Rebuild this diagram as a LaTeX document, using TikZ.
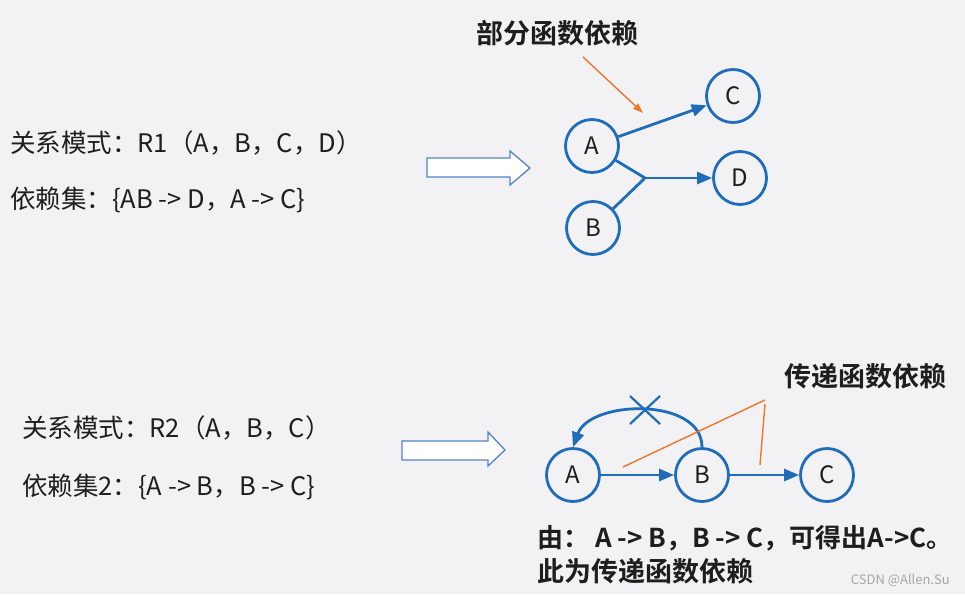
\documentclass[tikz,border=0pt]{standalone}
\usepackage{fontspec}
\setmainfont{Noto Sans CJK SC}
\newfontfamily\cjkbold{Noto Sans CJK SC Bold}
\usetikzlibrary{arrows.meta}
\definecolor{bg}{RGB}{242,242,244}
\definecolor{nblue}{RGB}{30,108,186}
\definecolor{norange}{RGB}{237,118,40}
\definecolor{hblue}{RGB}{84,130,200}
\definecolor{txt}{RGB}{30,30,30}
\tikzset{
  ent/.style={circle,draw=nblue,line width=2.8pt,minimum size=53pt,inner sep=0pt,font=\fontsize{24}{26}\selectfont,text=txt},
  dep/.style={draw=nblue,line width=2.8pt,-{Triangle[length=15pt,width=12pt]}},
  plain/.style={draw=nblue,line width=2.8pt},
  lab/.style={font=\fontsize{25.5}{28}\selectfont,text=txt,anchor=west,inner sep=0pt},
  blab/.style={font=\cjkbold\fontsize{27}{30}\selectfont,text=txt,inner sep=0pt},
  hollow/.style={draw=hblue,line width=1.3pt,fill=white},
  orl/.style={draw=norange,line width=1.4pt}
}
\begin{document}
\begin{tikzpicture}[x=1pt,y=-1pt]
\fill[bg] (0,0) rectangle (965,594);
\useasboundingbox (0,0) rectangle (965,594);
% ---------- top part ----------
\node[lab] (t1) at (10,143) {关系模式：R1（A，B，C，D）};
\node[lab] (t2) at (10,200) {依赖集：\{AB -> D，A -> C\}};
\draw[hollow] (427,158) -- (510,158) -- (510,151) -- (530,168) -- (510,185) -- (510,177) -- (427,177) -- cycle;
\node[blab] (p1) at (557,33) {部分函数依赖};
\node[ent] (A1) at (592,146) {A};
\node[ent] (B1) at (593,228) {B};
\node[ent] (C1) at (733,96) {C};
\node[ent] (D1) at (740,178) {D};
\coordinate (J1) at (645,178);
\coordinate (O1) at (583,57);
\coordinate (O2) at (643,113);
\draw[orl,-{Triangle[length=10pt,width=7pt]}] (O1) -- (O2);
\draw[dep] (A1) -- (C1);
\draw[plain] (A1) -- (J1);
\draw[plain] (B1) -- (J1);
\draw[dep] (J1) -- (D1);
% ---------- bottom part ----------
\node[lab] (t3) at (22,428) {关系模式：R2（A，B，C）};
\node[lab] (t4) at (22,487) {依赖集2：\{A -> B，B -> C\}};
\draw[hollow] (402,441) -- (488,441) -- (488,432) -- (505,450) -- (488,466) -- (488,460) -- (402,460) -- cycle;
\node[blab] (p2) at (865,376) {传递函数依赖};
\node[ent] (A2) at (573,475) {A};
\node[ent] (B2) at (702,475) {B};
\node[ent] (C2) at (827,475) {C};
\draw[dep] (A2) -- (B2);
\draw[dep] (B2) -- (C2);
\draw[dep] (B2.north) to[out=90,in=70] (A2.north);
\coordinate (X0) at (645,410);
\draw[nblue,line width=2.2pt] ([shift={(-15,-14)}]X0) -- ([shift={(15,14)}]X0);
\draw[nblue,line width=2.2pt] ([shift={(-15,14)}]X0) -- ([shift={(15,-14)}]X0);
\coordinate (L1) at (623,467);
\coordinate (L2) at (765,400);
\coordinate (L3) at (765,404);
\coordinate (L4) at (760,465);
\draw[orl] (L1) -- (L2);
\draw[orl] (L3) -- (L4);
\node[blab,anchor=west,font=\cjkbold\fontsize{26}{30}\selectfont] (e1) at (537,538) {由： A -> B，B -> C，可得出A->C。};
\node[blab,anchor=west] (e2) at (537,571) {此为传递函数依赖};
\node[font=\fontsize{13}{15}\selectfont,text=gray!70,anchor=east,inner sep=0pt] (wm) at (950,580) {CSDN @Allen.Su};
\end{tikzpicture}
\end{document}
